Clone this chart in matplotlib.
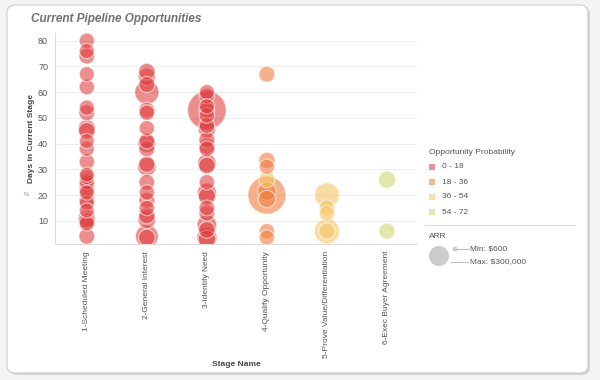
import numpy as np
import matplotlib
matplotlib.use("Agg")
import matplotlib.pyplot as plt
from matplotlib.patches import FancyBboxPatch, Rectangle, Circle

plt.rcParams['font.family'] = ['Liberation Sans', 'DejaVu Sans']

stages = ['1-Scheduled Meeting', '2-General Interest', '3-Identify Need',
          '4-Qualify Opportunity', '5-Prove Value/Differentiation',
          '6-Exec Buyer Agreement']

# one entry per opportunity: stage index, days in stage, ARR ($), probability (%)
point_stage = [0] * 25 + [1] * 20 + [2] * 22 + [3] * 9 + [4] * 5 + [5] * 2
point_days = [
    80, 76, 74, 67, 62, 54, 52, 46, 45, 41, 38, 33, 28, 27, 25, 24, 22, 21, 18, 17, 14, 11, 10, 9, 4,
    68, 66, 63, 60, 53, 52, 46, 41, 40, 38, 32, 31, 25, 21, 18, 15, 12, 10.5, 4, 3.5,
    60, 58.5, 53, 53, 54.5, 51, 47, 45.5, 41.5, 39, 38, 32.5, 31.5, 25, 21, 19.5, 15, 13, 8.5, 6.5, 3.5, 3,
    67, 33.5, 31, 26, 20, 21.5, 18.5, 6, 3.5,
    20, 15, 13, 6, 6,
    26, 6,
]
point_arr = [
    5000, 4000, 8000, 3000, 6000, 5000, 9000, 20000, 15000, 3000, 5000, 6000, 2000, 3000, 4000,
    7000, 5000, 3000, 8000, 4000, 3000, 20000, 12000, 5000, 10000,
    15000, 20000, 10000, 85000, 10000, 6000, 5000, 8000, 25000, 10000, 12000, 30000, 8000, 5000,
    10000, 6000, 12000, 25000, 70000, 15000,
    5000, 6000, 290000, 8000, 5000, 6000, 8000, 20000, 10000, 12000, 8000, 30000, 15000, 6000,
    35000, 20000, 8000, 10000, 40000, 15000, 45000, 20000,
    10000, 12000, 5000, 10000, 280000, 30000, 20000, 6000, 5000,
    90000, 8000, 6000, 95000, 12000,
    20000, 12000,
]
point_prob = [10] * 25 + [10] * 20 + [10] * 22 + [25, 25, 25, 40, 25, 25, 25, 25, 25] \
    + [40] * 5 + [60] * 2

prob_bins = [0, 18, 36, 54, 72]
bin_labels = ['0 - 18', '18 - 36', '36 - 54', '54 - 72']
bin_colors = ['#e03b3b', '#f07a3a', '#f5c35e', '#ced870']
arr_min, arr_max = 600, 300000

W, H = 600, 380
fig = plt.figure(figsize=(6, 3.8), dpi=100, facecolor='#f4f4f4')

# card background
bg = fig.add_axes([0, 0, 1, 1], zorder=-5)
bg.set_xlim(0, W)
bg.set_ylim(H, 0)
bg.axis('off')
bg.add_patch(FancyBboxPatch((9, 7), 581, 368, boxstyle='round,pad=0,rounding_size=8',
                            fc='#d4d4d4', ec='none'))
bg.add_patch(FancyBboxPatch((7, 5), 581, 368, boxstyle='round,pad=0,rounding_size=8',
                            fc='white', ec='#cccccc', lw=0.8))
bg.text(31, 22, 'Current Pipeline Opportunities', fontsize=8.5, fontweight='bold',
        fontstyle='italic', color='#707070')

ax = fig.add_axes([55 / W, 1 - 244 / H, 362 / W, 211 / H])
ax.set_xlim(-0.53, 5.5)
ax.set_ylim(1, 83)

st = np.array(point_stage)
dy = np.array(point_days, dtype=float)
ar = np.array(point_arr, dtype=float)
pr = np.array(point_prob)
sizes = 110 + 690 * ar / arr_max
cidx = np.clip(np.digitize(pr, prob_bins) - 1, 0, 3)
order = np.argsort(-sizes)
ax.scatter(st[order], dy[order], s=sizes[order], c=[bin_colors[i] for i in cidx[order]],
           alpha=0.58, edgecolors='white', linewidths=0.9, zorder=3)

ax.set_yticks([10, 20, 30, 40, 50, 60, 70, 80])
ax.set_xticks(range(len(stages)))
ax.set_xticklabels(stages, rotation=90, fontsize=6, color='#555555')
ax.tick_params(axis='y', labelsize=6.5, labelcolor='#555555', length=0, pad=5)
ax.tick_params(axis='x', length=0, pad=5)
ax.grid(axis='y', color='#eeeeee', lw=0.8)
ax.set_axisbelow(True)
for s in ['top', 'right']:
    ax.spines[s].set_visible(False)
for s in ['left', 'bottom']:
    ax.spines[s].set_color('#dddddd')
    ax.spines[s].set_linewidth(0.8)
ax.set_ylabel('Days in Current Stage', fontsize=6, fontweight='bold', color='#444444', labelpad=2)
ax.set_xlabel('Stage Name', fontsize=6, fontweight='bold', color='#444444', labelpad=2)
bg.text(28, 193, '\u21f5', fontsize=5, color='#aaaaaa', ha='center', va='center', rotation=90)

# legend drawn in pixel coordinates
bg.text(429, 152, 'Opportunity Probability', fontsize=6, color='#555555', va='center')
for i, lab in enumerate(bin_labels):
    yy = 167 + i * 15
    bg.add_patch(Rectangle((429, yy - 3), 6, 6, fc=bin_colors[i], alpha=0.55, ec='none'))
    bg.text(442, yy, lab, fontsize=6, color='#555555', va='center')
bg.plot([425, 575], [225, 225], color='#dddddd', lw=0.8)
bg.text(429, 236, 'ARR', fontsize=6, color='#555555', va='center')
bg.add_patch(Circle((439, 256), 10, fc='#cccccc', ec='none'))
bg.add_patch(Circle((455, 249), 2.5, fc='#cccccc', ec='none'))
bg.plot([457, 468], [249, 249], color='#bbbbbb', lw=0.7)
bg.plot([451, 468], [262, 262], color='#bbbbbb', lw=0.7)
bg.text(470, 249, 'Min: $600', fontsize=6, color='#555555', va='center')
bg.text(470, 262, 'Max: $300,000', fontsize=6, color='#555555', va='center')

fig.savefig('out.png', dpi=100, facecolor=fig.get_facecolor())
